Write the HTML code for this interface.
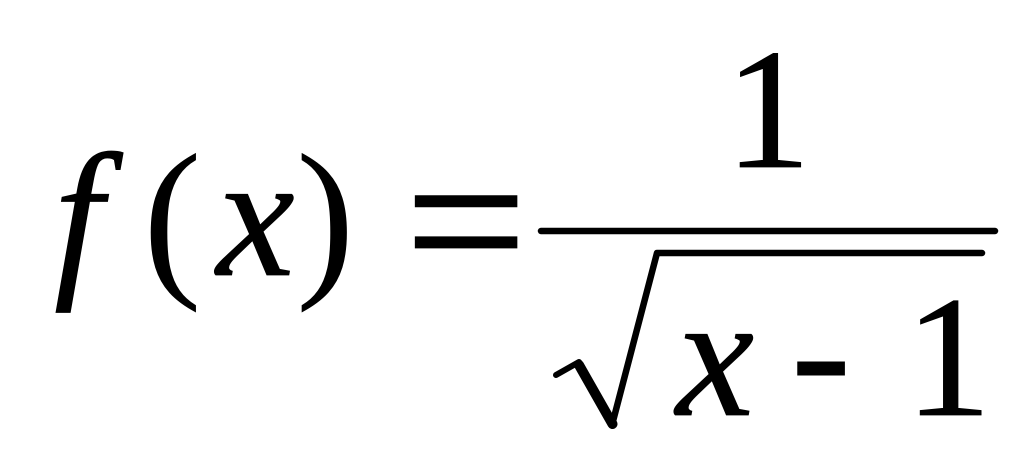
<!DOCTYPE html>
<html><head><meta charset="utf-8"><style>
html,body{margin:0;padding:0;background:#fff;width:1024px;height:462px;overflow:hidden}
svg{display:block}
text{font-family:"Liberation Serif",serif;fill:#000;stroke:#000;stroke-width:0.8px}
.i{font-style:italic}
</style></head><body>
<svg width="1024" height="462" viewBox="0 0 1024 462" xmlns="http://www.w3.org/2000/svg">
<rect width="1024" height="462" fill="#fff"/>
<text class="i" x="54" y="275" font-size="176">f</text>
<text x="143" y="275" font-size="176" style="stroke-width:0">(</text>
<text class="i" x="216.500" y="275" font-size="176">x</text>
<text x="296" y="275" font-size="176" style="stroke-width:0">)</text>
<g transform="translate(0,223) scale(1,1.08) translate(0,-223)"><text x="405" y="285" font-size="190" textLength="122" lengthAdjust="spacingAndGlyphs" style="stroke-width:1.6px">=</text></g>
<text x="725" y="167" font-size="172">1</text>
<path d="M541 231H995" stroke="#000" stroke-width="6.500" stroke-linecap="round" fill="none"/>
<path d="M556 375L579 362" stroke="#000" stroke-width="6" stroke-linecap="round" fill="none"/>
<path d="M579 365L612.500 424" stroke="#000" stroke-width="10" stroke-linecap="round" fill="none"/>
<path d="M612 425L657 253H982" stroke="#000" stroke-width="6.500" stroke-linecap="round" stroke-linejoin="round" fill="none"/>
<text class="i" x="676" y="415" font-size="176">x</text>
<text x="791" y="410" font-size="176" textLength="60" lengthAdjust="spacingAndGlyphs">-</text>
<text x="905" y="415" font-size="173">1</text>
</svg>
</body></html>
